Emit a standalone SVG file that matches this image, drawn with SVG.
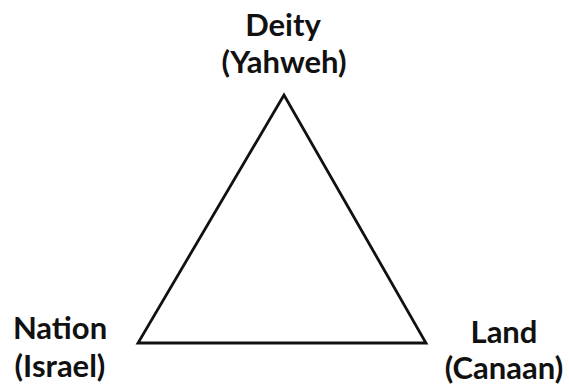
<svg xmlns="http://www.w3.org/2000/svg" width="569" height="387" viewBox="0 0 569 387">
<style>
.lbl{font-family:Lato,"Open Sans","Liberation Sans",sans-serif;font-weight:700;font-size:31px;fill:#111;text-anchor:middle}
.edge{fill:none;stroke:#111;stroke-width:2.8;stroke-linejoin:miter}
</style>
<rect width="569" height="387" fill="#fff"/>
<g id="connectors">
<polygon class="edge" points="284,95 138,343 426,343"/>
</g>
<g id="deity">
<text class="lbl" x="283" y="36">Deity</text>
<text class="lbl" x="284" y="73">(Yahweh)</text>
</g>
<g id="nation">
<text class="lbl" x="60" y="339">Nation</text>
<text class="lbl" x="60" y="377">(Israel)</text>
</g>
<g id="land">
<text class="lbl" x="504" y="343">Land</text>
<text class="lbl" x="504" y="379">(Canaan)</text>
</g>
</svg>
